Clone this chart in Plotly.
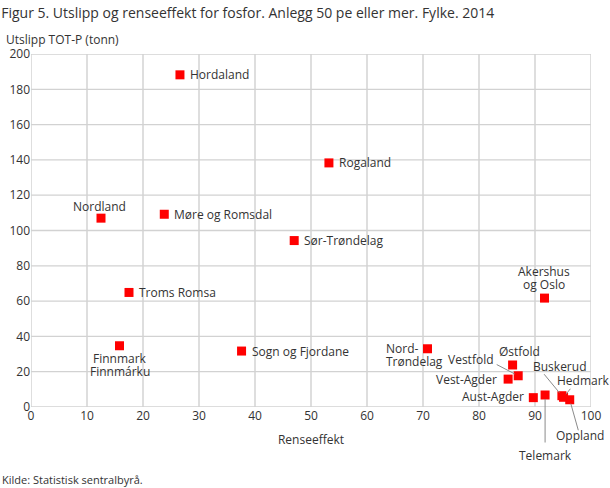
import plotly.graph_objects as go

# ---- data ----
fylke = ["Hordaland", "Rogaland", "Nordland", "Møre og Romsdal", "Sør-Trøndelag",
         "Troms Romsa", "Finnmark\nFinnmárku", "Sogn og Fjordane", "Akershus\nog Oslo",
         "Nord-\nTrøndelag", "Østfold", "Vestfold", "Vest-Agder", "Aust-Agder",
         "Telemark", "Buskerud", "Hedmark", "Oppland"]
renseeffekt = [26.6, 53.2, 12.5, 23.8, 47.0, 17.5, 15.8, 37.6, 91.7,
               70.8, 86.0, 87.0, 85.2, 89.7, 91.8, 94.8, 95.1, 96.2]
utslipp = [188.2, 138.3, 107.0, 109.2, 94.3, 64.9, 34.7, 31.7, 61.7,
           33.0, 23.8, 17.7, 15.8, 5.3, 6.8, 6.4, 5.5, 4.1]

x_ticks = list(range(0, 101, 10))
y_ticks = list(range(0, 201, 20))

# ---- label placement (pixel offsets) ----
label_pos = {
    "Hordaland": ("left", 8, 0),
    "Rogaland": ("left", 8, 0),
    "Nordland": ("center", -2, 11.6),
    "Møre og Romsdal": ("left", 8, 0),
    "Sør-Trøndelag": ("left", 8, 0),
    "Troms Romsa": ("left", 8, 0),
    "Finnmark\nFinnmárku": ("center", 1, -13),
    "Sogn og Fjordane": ("left", 8, 0),
    "Akershus\nog Oslo": ("center", -1, 26.5),
    "Nord-\nTrøndelag": ("left", -43.7, 0),
    "Østfold": ("center", 7.3, 13),
    "Vestfold": ("right", -22.7, 16),
    "Vest-Agder": ("right", -8.7, 0),
    "Aust-Agder": ("right", -7.7, 0.7),
    "Telemark": ("center", 0.4, -60.4),
    "Buskerud": ("center", -2, 29.3),
    "Hedmark": ("center", 19.5, 16.8),
    "Oppland": ("center", 10.7, -36),
}
line_gap = 12.4
leaders = {
    "Vestfold": (-23, -12),
    "Telemark": (0, 49),
    "Buskerud": (-19, -23),
    "Hedmark": (8, -10),
    "Oppland": (9, 32),
}

W, H = 610, 488
ML, MR, MT, MB = 31, 19, 54, 81
PW, PH = W - ML - MR, H - MT - MB

text_color = "#333333"
vgrid_color = "#dedede"
hgrid_color = "#d2d2d2"
font_family = "Open Sans, DejaVu Sans, sans-serif"

fig = go.Figure()
fig.add_trace(go.Scatter(
    x=renseeffekt, y=utslipp, mode="markers",
    marker=dict(symbol="square", size=9, color="#ff0000", line=dict(width=0)),
    hoverinfo="skip", showlegend=False, cliponaxis=False,
))

# grid lines at the tick values (drawn as axis-referenced shapes)
shapes = []
for xv in x_ticks:
    shapes.append(dict(type="line", xref="x", yref="paper", x0=xv, x1=xv, y0=0, y1=1,
                       line=dict(color=vgrid_color, width=2), layer="below"))
for yv in y_ticks:
    shapes.append(dict(type="line", xref="paper", yref="y", x0=0, x1=1, y0=yv, y1=yv,
                       line=dict(color=hgrid_color, width=1.3), layer="below"))

annotations = []
for name, xv, yv in zip(fylke, renseeffekt, utslipp):
    xa, xs, ys = label_pos[name]
    for i, line in enumerate(name.split("\n")):
        annotations.append(dict(
            x=xv, y=yv, xref="x", yref="y", text=line, showarrow=False,
            xanchor=xa, yanchor="middle", xshift=xs, yshift=ys - i * line_gap,
            font=dict(size=12, color=text_color, family=font_family),
        ))
    if name in leaders:
        ax, ay = leaders[name]
        annotations.append(dict(
            x=xv, y=yv, xref="x", yref="y", text="", showarrow=True,
            ax=ax, ay=ay, axref="pixel", ayref="pixel",
            arrowhead=0, arrowwidth=1, arrowcolor="#8a8a8a", standoff=4,
        ))


def px_to_paper(px, py):
    return (px - ML) / PW, (H - MB - py) / PH


ax_t = px_to_paper(4, 40)
annotations.append(dict(
    x=ax_t[0], y=ax_t[1], xref="paper", yref="paper",
    text="Utslipp TOT-P (tonn)", showarrow=False,
    xanchor="left", yanchor="middle",
    font=dict(size=12, color=text_color, family=font_family),
))
src = px_to_paper(0, 479)
annotations.append(dict(
    x=src[0], y=src[1], xref="paper", yref="paper",
    text="Kilde: Statistisk sentralbyrå.", showarrow=False,
    xanchor="left", yanchor="middle",
    font=dict(size=11, color=text_color, family=font_family),
))

fig.update_layout(
    width=W, height=H,
    margin=dict(l=ML, r=MR, t=MT, b=MB, autoexpand=False),
    paper_bgcolor="white", plot_bgcolor="white",
    font=dict(family=font_family, size=12, color=text_color),
    title=dict(
        text="Figur 5. Utslipp og renseeffekt for fosfor. Anlegg 50 pe eller mer. Fylke. 2014",
        x=0.002, xref="container", xanchor="left",
        y=1 - 13 / H, yref="container", yanchor="middle",
        font=dict(size=14, color=text_color, family=font_family),
    ),
    xaxis=dict(
        range=[0, 100], tickmode="array", tickvals=x_ticks,
        ticktext=[str(v) for v in x_ticks],
        showgrid=False, zeroline=False, showline=False, ticks="",
        tickfont=dict(size=12, color=text_color),
        title=dict(text="Renseeffekt", standoff=12, font=dict(size=12, color=text_color)),
    ),
    yaxis=dict(
        range=[0, 200], tickmode="array", tickvals=y_ticks,
        ticktext=[str(v) for v in y_ticks],
        showgrid=False, zeroline=False, showline=False, ticks="",
        tickfont=dict(size=12, color=text_color),
    ),
    shapes=shapes,
    annotations=annotations,
)

fig.write_html("out.html", config={"displayModeBar": False},
               post_script="document.body.style.margin='0';")
